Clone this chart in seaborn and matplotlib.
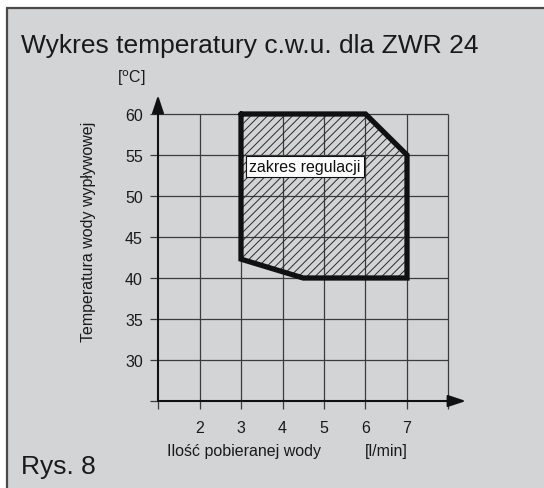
import numpy as np
import matplotlib
matplotlib.use('Agg')
import matplotlib.pyplot as plt
import seaborn as sns
from matplotlib.patches import Rectangle
from matplotlib.lines import Line2D

# data
flow_ticks = [1, 2, 3, 4, 5, 6, 7, 8]
flow_labels = ['', '2', '3', '4', '5', '6', '7', '']
temp_ticks = [25, 30, 35, 40, 45, 50, 55, 60]
temp_labels = ['', '30', '35', '40', '45', '50', '55', '60']
region_flow = [3, 6, 7, 7, 4.5, 3, 3]
region_temp = [60, 60, 55, 40, 40, 42.3, 60]

title = 'Wykres temperatury c.w.u. dla ZWR 24'
region_label = 'zakres regulacji'

sns.set_theme(style='white')
plt.rcParams['font.family'] = ['Liberation Sans', 'DejaVu Sans']
plt.rcParams['hatch.linewidth'] = 0.7

W, H = 544, 489
fig = plt.figure(figsize=(W / 100, H / 100), dpi=100)
fig.patch.set_facecolor('white')

# grey panel with dark left/top border
panel_col = '#d3d4d6'
fig.patches.append(Rectangle((7 / W, 0), 1, 1 - 9 / H, transform=fig.transFigure,
                             facecolor=panel_col, edgecolor='none', zorder=-2))
fig.lines.append(Line2D([7 / W, 7 / W], [0, 1 - 9 / H], transform=fig.transFigure,
                        color='#4a4a4a', lw=1.6, zorder=-1))
fig.lines.append(Line2D([7 / W, 1], [1 - 9 / H, 1 - 9 / H], transform=fig.transFigure,
                        color='#4a4a4a', lw=1.6, zorder=-1))

xmin, xmax = 1, 8.42
ymin, ymax = 25, 62.3
px_x, px_y = 41.5, 8.2
ax = fig.add_axes([158 / W, 1 - 402 / H, (xmax - xmin) * px_x / W, (ymax - ymin) * px_y / H])
ax.set_facecolor('none')
ax.set_xlim(xmin, xmax)
ax.set_ylim(ymin, ymax)
for s in ax.spines.values():
    s.set_visible(False)

grid_col = '#3c3c3c'
ax.hlines(temp_ticks[1:], flow_ticks[0], flow_ticks[-1], color=grid_col, lw=0.9, zorder=1)
ax.vlines(flow_ticks[1:], temp_ticks[0], temp_ticks[-1], color=grid_col, lw=0.9, zorder=1)

# axes with arrows
ax.annotate('', xy=(xmax, ymin), xytext=(xmin, ymin), annotation_clip=False,
            arrowprops=dict(arrowstyle='-|>,head_length=0.9,head_width=0.3', color='#111', lw=1.5,
                            shrinkA=0, shrinkB=0))
ax.annotate('', xy=(xmin, ymax), xytext=(xmin, ymin), annotation_clip=False,
            arrowprops=dict(arrowstyle='-|>,head_length=0.9,head_width=0.3', color='#111', lw=1.5,
                            shrinkA=0, shrinkB=0))

ax.set_xticks(flow_ticks)
ax.set_xticklabels(flow_labels)
ax.set_yticks(temp_ticks)
ax.set_yticklabels(temp_labels)
ax.tick_params(axis='both', which='both', direction='out', length=6, width=0.9,
               color=grid_col, labelsize=11.5, labelcolor='#1a1a1a', left=True, bottom=True)
ax.tick_params(axis='x', pad=8)
ax.tick_params(axis='y', pad=5)

# hatched region
ax.fill(region_flow, region_temp, facecolor='none', edgecolor='#2a2a2a', hatch='////', lw=0, zorder=2)
sns.lineplot(x=region_flow, y=region_temp, sort=False, estimator=None, ax=ax, color='#111111',
             lw=3.8, zorder=4, solid_joinstyle='miter')

ax.text(3.2, 53.6, region_label, fontsize=11.5, ha='left', va='center', color='#111', zorder=5,
        bbox=dict(boxstyle='square,pad=0.2', facecolor='white', edgecolor='#111', lw=0.8))

lab_fs = 11.5
fig.text(88 / W, 1 - 232 / H, 'Temperatura wody wypływowej', rotation=90, ha='center',
         va='center', fontsize=lab_fs, color='#1a1a1a')
fig.text(131 / W, 1 - 78 / H, r'[$^{\mathrm{o}}$C]', ha='center', va='center', fontsize=lab_fs,
         color='#1a1a1a')
fig.text(167 / W, 1 - 452 / H, 'Ilość pobieranej wody', ha='left', va='center', fontsize=lab_fs,
         color='#1a1a1a')
fig.text(365 / W, 1 - 452 / H, '[l/min]', ha='left', va='center', fontsize=lab_fs, color='#1a1a1a')
fig.text(21 / W, 1 - 46 / H, title, ha='left', va='center', fontsize=19, color='#1a1a1a')
fig.text(21 / W, 1 - 467 / H, 'Rys. 8', ha='left', va='center', fontsize=19, color='#1a1a1a')

fig.savefig('out.png', dpi=100)
